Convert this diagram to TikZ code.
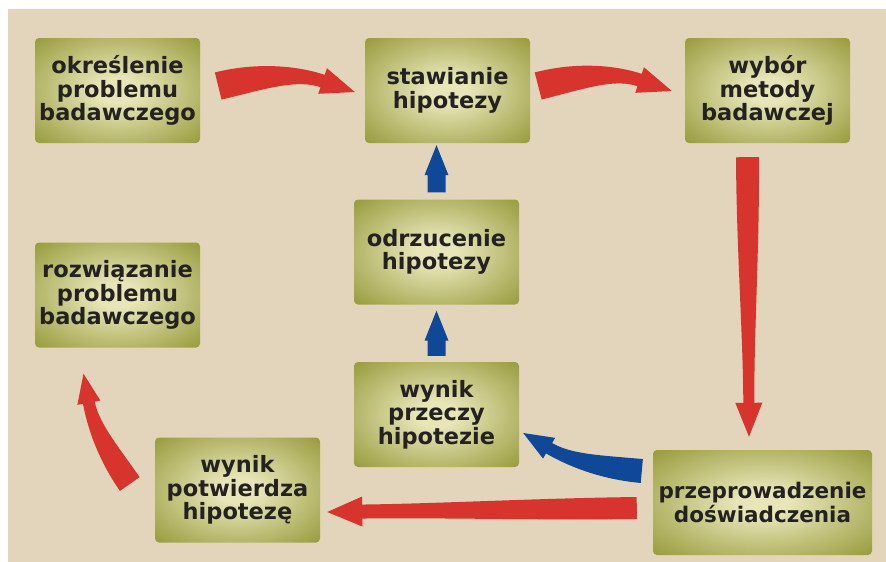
\documentclass[tikz,border=0pt]{standalone}
\usepackage{fontspec}
\setmainfont{DejaVu Sans}
\usepackage{xcolor}

\definecolor{paper}{RGB}{226,213,188}
\definecolor{boxolive}{RGB}{155,159,66}
\definecolor{boxlight}{RGB}{232,229,184}
\definecolor{arrowred}{RGB}{214,52,45}
\definecolor{arrowblue}{RGB}{14,72,150}
\definecolor{inkgray}{RGB}{36,34,32}

\pgfdeclareradialshading{stageglow}{\pgfpoint{0bp}{0bp}}{%
  color(0bp)=(boxlight); color(6bp)=(boxlight); color(34bp)=(boxolive); color(50bp)=(boxolive)}

% fat tapered arrow: [style]{tail}{tip}{bend}{tail half}{shaft half}{head half}{head length}
\newcommand\fatarrow[8][]{%
  \begingroup
  \pgfpointanchor{#2}{center}\pgfgetlastxy{\ax}{\ay}%
  \pgfpointanchor{#3}{center}\pgfgetlastxy{\bx}{\by}%
  \pgfmathsetmacro\arang{atan2((\by)-(\ay),(\bx)-(\ax))}%
  \pgfmathsetmacro\arlen{veclen((\bx)-(\ax),(\by)-(\ay))}%
  \pgfmathsetmacro\arnrm{veclen(\arlen/2,#4)}%
  \pgfmathsetmacro\arp{(\arlen/2)/\arnrm}%
  \pgfmathsetmacro\arq{(#4)/\arnrm}%
  \pgfmathsetmacro\arhbx{\arlen-#8*(\arp)}%
  \pgfmathsetmacro\arhby{#8*(\arq)}%
  \pgfmathsetmacro\arqx{\arhbx+2/3*(\arlen/2-\arhbx)}%
  \pgfmathsetmacro\arqy{\arhby+2/3*(#4-\arhby)}%
  \fill[#1, shift={(\ax,\ay)}, rotate=\arang, x=1pt, y=1pt]
    ({-#5*(\arq)}, {#5*(\arp)})
    .. controls ({\arlen/3-#5*(\arq)}, {2*(#4)/3+#5*(\arp)})
            and ({\arqx+#6*(\arq)}, {\arqy+#6*(\arp)})
    .. ({\arhbx+#6*(\arq)}, {\arhby+#6*(\arp)})
    -- ({\arhbx+#7*(\arq)}, {\arhby+#7*(\arp)}) -- (\arlen,0)
    -- ({\arhbx-#7*(\arq)}, {\arhby-#7*(\arp)}) -- ({\arhbx-#6*(\arq)}, {\arhby-#6*(\arp)})
    .. controls ({\arqx-#6*(\arq)}, {\arqy-#6*(\arp)})
            and ({\arlen/3+#5*(\arq)}, {2*(#4)/3-#5*(\arp)})
    .. ({#5*(\arq)}, {-#5*(\arp)}) -- cycle;
  \endgroup}

\begin{document}
\begin{tikzpicture}[x=1pt, y=-1pt,
  stage/.style={rectangle, rounded corners=4pt, minimum width=165pt, minimum height=105pt,
    inner sep=0pt, align=center, shading=stageglow,
    text=inkgray, font=\bfseries\fontsize{22.5}{23.5}\selectfont},
  redarrow/.style={fill=arrowred},
  bluearrow/.style={fill=arrowblue}]
\useasboundingbox (0,0) rectangle (886,562);
\fill[paper] (8,9) rectangle (886,562);
%============
\node[stage] (okr) at (117.5,90.5) {określenie\\problemu\\badawczego};
\node[stage] (staw) at (447.5,90.5) {stawianie\\hipotezy};
\node[stage] (wyb) at (767.5,90.5) {wybór\\metody\\badawczej};
\node[stage] (odrz) at (436.5,252) {odrzucenie\\hipotezy};
\node[stage] (przecz) at (436.5,414.5) {wynik\\przeczy\\hipotezie};
\node[stage] (rozw) at (117.5,295) {rozwiązanie\\problemu\\badawczego};
\node[stage] (potw) at (237.5,490) {wynik\\potwierdza\\hipotezę};
\node[stage, minimum width=219pt, font=\bfseries\fontsize{21.5}{23.5}\selectfont] (dosw) at (762.5,502.5) {przeprowadzenie\\doświadczenia};
%============
\coordinate (a1s) at ([xshift=18pt, yshift=4.5pt]okr.east);
\coordinate (a1e) at ([xshift=-10pt, yshift=-1.5pt]staw.west);
\coordinate (a2s) at ([xshift=8pt, yshift=4.5pt]staw.east);
\coordinate (a2e) at ([xshift=-13pt, yshift=-0.5pt]wyb.west);
\coordinate (a3s) at ([xshift=-20pt, yshift=-14pt]wyb.south);
\coordinate (a3e) at ([xshift=-13.5pt, yshift=13pt]dosw.north);
\coordinate (a4s) at ([xshift=-11pt, yshift=31.5pt]dosw.west);
\coordinate (a4e) at ([xshift=4pt, yshift=-18.5pt]przecz.east);
\coordinate (a5s) at ([xshift=-16pt, yshift=-5.5pt]dosw.west);
\coordinate (a5e) at ([xshift=7pt, yshift=-22pt]potw.east);
\coordinate (a6s) at ([xshift=-25pt, yshift=6pt]potw.west);
\coordinate (a6e) at ([xshift=-34pt, yshift=-26pt]rozw.south);
\coordinate (a7s) at ([yshift=6pt]przecz.north);
\coordinate (a7e) at ([yshift=-6pt]odrz.south);
\coordinate (a8s) at ([yshift=7pt]odrz.north);
\coordinate (a8e) at ([xshift=-11pt, yshift=-2pt]staw.south);
%============
\fatarrow[redarrow]{a1s}{a1e}{20}{14}{6.5}{13.5}{34}
\fatarrow[redarrow]{a2s}{a2e}{20}{14}{6.5}{13.5}{34}
\fatarrow[redarrow]{a3s}{a3e}{0}{11.5}{5.5}{13.5}{34}
\fatarrow[bluearrow]{a4s}{a4e}{14}{12}{6}{12}{30}
\fatarrow[redarrow]{a5s}{a5e}{0}{11}{7}{15}{35}
\fatarrow[redarrow]{a6s}{a6e}{13}{12}{6}{11.7}{29.5}
\fatarrow[bluearrow]{a7s}{a7e}{0}{9}{9}{12}{30}
\fatarrow[bluearrow]{a8s}{a8e}{0}{9}{9}{12}{30}
\end{tikzpicture}
\end{document}
